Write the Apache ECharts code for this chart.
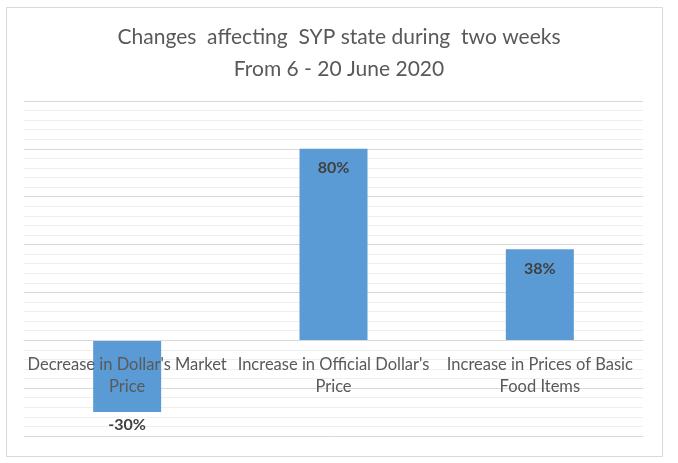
<!DOCTYPE html>
<html><head><meta charset="utf-8">
<script src="https://cdn.jsdelivr.net/npm/echarts@6/dist/echarts.min.js"></script>
<style>html,body{margin:0;padding:0;background:#fff}#c{width:678px;height:463px}</style>
</head><body><div id="c"></div>
<script>
var categories = ["Decrease in Dollar's Market Price", "Increase in Official Dollar's Price", "Increase in Prices of Basic Food Items"];
var categoryLabels = ["Decrease in Dollar's Market\nPrice", "Increase in Official Dollar's\nPrice", "Increase in Prices of Basic\nFood Items"];
var values = [-30, 80, 38];
var titleLines = ["Changes  affecting  SYP state during  two weeks", "From 6 - 20 June 2020"];

var chart = echarts.init(document.getElementById('c'));
chart.setOption({
  animation: false,
  backgroundColor: '#fff',
  graphic: [{type:'rect', shape:{x:6.5,y:7.5,width:656,height:449}, style:{fill:'none', stroke:'#d9d9d9', lineWidth:1}, silent:true, z:-1}],
  title: {
    text: titleLines.join('\n'), left: 'center', top: 16,
    textStyle: {fontFamily: 'Lato, "Open Sans", sans-serif', fontSize: 21, fontWeight: 'normal', color: '#595959', lineHeight: 32}
  },
  grid: {left: 24, right: 35, top: 101, bottom: 27, containLabel: false, outerBoundsMode: 'none'},
  xAxis: {
    type: 'category', data: categories, position: 'bottom', offset: -96, z: 10,
    axisLine: {show: true, onZero: false, lineStyle: {color: '#d9d9d9'}},
    axisTick: {show: false},
    axisLabel: {
      interval: 0, margin: 14, fontSize: 16.5, lineHeight: 22, color: '#595959',
      fontFamily: 'Lato, "Open Sans", sans-serif',
      formatter: function (v, i) { return categoryLabels[i]; }
    }
  },
  yAxis: {
    type: 'value', min: -40, max: 100, interval: 20,
    axisLabel: {show: false}, axisLine: {show: false}, axisTick: {show: false},
    splitLine: {show: true, lineStyle: {color: '#d9d9d9', width: 1}},
    minorTick: {show: false, splitNumber: 5},
    minorSplitLine: {show: true, lineStyle: {color: '#efefef', width: 1}}
  },
  series: [{
    type: 'bar', barWidth: 68, z: 2,
    itemStyle: {color: '#5b9bd5'},
    data: values.map(function (v) {
      return {value: v, label: {position: v >= 0 ? 'insideTop' : 'bottom', distance: v >= 0 ? 11 : 5}};
    }),
    label: {
      show: true, fontSize: 16, fontWeight: 'bold', color: '#404040',
      fontFamily: 'Lato, "Open Sans", sans-serif',
      formatter: function (p) { return p.value + '%'; }
    }
  }]
});
</script></body></html>
